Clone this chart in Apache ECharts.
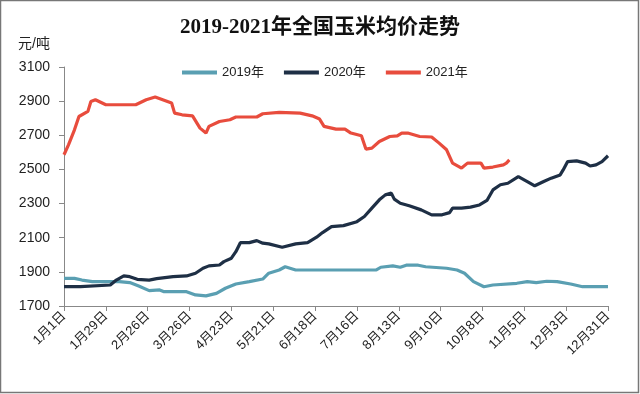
<!DOCTYPE html>
<html>
<head>
<meta charset="utf-8">
<script src="https://cdn.jsdelivr.net/npm/echarts@6/dist/echarts.min.js"></script>
<style>
html,body{margin:0;padding:0;background:#fff;}
#chart{width:640px;height:394px;}
</style>
</head>
<body>
<div id="chart"></div>
<script>
var titleText = '2019-2021年全国玉米均价走势';
var unitText = '元/吨';
var seriesNames = ['2019年', '2020年', '2021年'];
var xLabels = ['1月1日','1月29日','2月26日','3月26日','4月23日','5月21日','6月18日','7月16日','8月13日','9月10日','10月8日','11月5日','12月3日','12月31日'];
var yMin = 1700, yMax = 3100, yStep = 200;

var days2019 = [0,7,12,19,29,37,44,50,57,64,67,82,88,95,102,108,115,124,133,137,144,148,155,209,212,220,225,229,237,242,256,263,268,274,281,287,303,310,316,323,330,339,347,364];
var vals2019 = [1862,1862,1852,1843,1843,1843,1837,1817,1790,1794,1784,1784,1765,1759,1774,1804,1829,1843,1858,1892,1911,1930,1911,1911,1927,1935,1927,1939,1939,1930,1921,1911,1892,1843,1813,1823,1833,1843,1837,1845,1843,1829,1813,1813];

var days2020 = [0,11,12,31,35,40,44,49,57,62,73,82,88,93,97,104,107,112,115,118,124,129,133,137,146,155,163,169,173,179,187,196,201,206,211,215,219,221,225,231,239,246,253,258,260,266,272,278,283,287,292,297,304,310,315,321,326,332,334,337,343,349,352,356,360,364];
var vals2020 = [1813,1813,1823,1823,1852,1876,1872,1856,1852,1860,1872,1876,1892,1921,1935,1940,1960,1980,2018,2071,2071,2083,2068,2064,2044,2064,2071,2103,2130,2165,2171,2194,2224,2273,2322,2351,2361,2326,2302,2287,2263,2234,2234,2247,2273,2273,2279,2292,2318,2380,2410,2419,2458,2429,2404,2429,2449,2468,2497,2546,2550,2537,2520,2527,2546,2580];

var days2021 = [0,3,7,10,16,18,21,28,48,55,61,72,74,79,86,91,95,97,104,111,115,129,133,144,158,166,171,174,182,188,192,199,202,206,211,218,223,226,230,238,246,251,256,260,266,270,279,281,287,294,296,298];
var vals2021 = [2586,2644,2732,2810,2840,2898,2908,2879,2879,2908,2924,2889,2830,2820,2814,2742,2713,2752,2781,2791,2807,2807,2826,2834,2830,2814,2795,2752,2736,2736,2713,2697,2619,2625,2664,2693,2697,2713,2713,2693,2690,2654,2615,2537,2508,2537,2537,2508,2514,2527,2537,2556];

var colors = ['#5a9fb2', '#1e2f45', '#e84c3d'];

function zip(d, v) { return d.map(function (x, i) { return [x, v[i]]; }); }

var sansFont = '"Liberation Sans", "Noto Sans CJK SC", sans-serif';
var chart = echarts.init(document.getElementById('chart'), null, {renderer: 'canvas'});

var allData = [zip(days2019, vals2019), zip(days2020, vals2020), zip(days2021, vals2021)];

chart.setOption({
  backgroundColor: '#ffffff',
  animation: false,
  title: {
    text: titleText,
    left: 'center',
    top: 12,
    textStyle: {
      fontFamily: '"Liberation Serif", "Noto Sans CJK SC", serif',
      fontSize: 21,
      fontWeight: 'bold',
      color: '#111'
    }
  },
  legend: {
    data: seriesNames,
    left: 177,
    top: 61,
    icon: 'rect',
    itemWidth: 35,
    itemHeight: 4,
    itemGap: 20,
    textStyle: {fontFamily: sansFont, fontSize: 13, color: '#222'}
  },
  graphic: [
    {type: 'rect', shape: {x: 0.5, y: 0.5, width: 638, height: 392}, style: {fill: 'none', stroke: '#777', lineWidth: 1.5}, silent: true},
    {type: 'text', left: 18, top: 37, style: {text: unitText, font: '14px ' + sansFont, fill: '#222'}}
  ],
  grid: {left: 64, right: 32, top: 67, bottom: 88, containLabel: false, outerBoundsMode: 'none'},
  xAxis: {
    type: 'value',
    min: 0,
    max: 364,
    interval: 28,
    splitLine: {show: false},
    axisLine: {show: true, lineStyle: {color: '#888', width: 1}},
    axisTick: {show: true, length: 5, lineStyle: {color: '#888'}},
    axisLabel: {
      rotate: 45,
      margin: 8,
      fontFamily: sansFont,
      fontSize: 13,
      color: '#222',
      formatter: function (v) { return xLabels[Math.round(v / 28)] || ''; }
    }
  },
  yAxis: {
    type: 'value',
    min: yMin,
    max: yMax,
    interval: yStep,
    splitLine: {show: false},
    axisLine: {show: true, lineStyle: {color: '#888', width: 1}},
    axisTick: {show: true, length: 5, lineStyle: {color: '#888'}},
    axisLabel: {
      margin: 14,
      fontFamily: sansFont,
      fontSize: 14,
      color: '#222',
      formatter: function (v) { return String(v); }
    }
  },
  series: seriesNames.map(function (name, i) {
    return {
      name: name,
      type: 'line',
      data: allData[i],
      symbol: 'none',
      smooth: false,
      lineStyle: {width: 3.2, color: colors[i]},
      itemStyle: {color: colors[i]}
    };
  })
});
</script>
</body>
</html>
